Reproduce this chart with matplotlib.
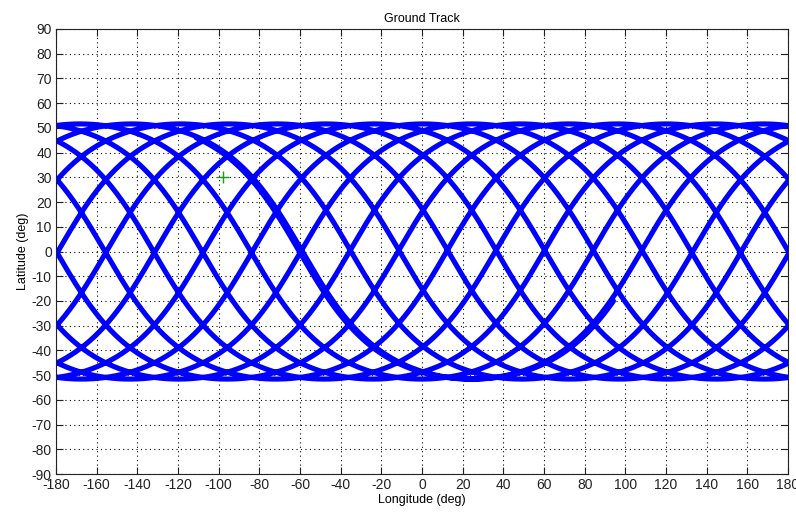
import numpy as np
import matplotlib
matplotlib.use("Agg")
import matplotlib.pyplot as plt

# orbit as seen from the ground: circular, inclined, ~15 revs per day
inclination = 51.6          # deg
node_shift = 23.9           # deg of westward drift per revolution
first_node_lon = 131.6      # ascending node of the first revolution (deg)
u_start = 113.4             # argument of latitude where the track begins (deg)
u_end = 15 * 360 + 334.1    # argument of latitude where the track ends (deg)

# ground station
station_lon = [-98]
station_lat = [30]

xticks = list(range(-180, 181, 20))
yticks = list(range(-90, 91, 10))

u = np.radians(np.linspace(u_start, u_end, 40000))
inc = np.radians(inclination)
lat = np.degrees(np.arcsin(np.sin(inc) * np.sin(u)))
dlon = np.unwrap(np.arctan2(np.cos(inc) * np.sin(u), np.cos(u)))
lon = first_node_lon + np.degrees(dlon) - np.degrees(u) / 360.0 * node_shift
lon = (lon + 180) % 360 - 180

# break the line where it wraps around the date line
jumps = np.where(np.abs(np.diff(lon)) > 180)[0] + 1
lon = np.insert(lon, jumps, np.nan)
lat = np.insert(lat, jumps, np.nan)

plt.rcParams['font.family'] = ['Liberation Sans', 'DejaVu Sans']
plt.rcParams['axes.unicode_minus'] = False

fig = plt.figure(figsize=(7.96, 5.14), dpi=100)
ax = fig.add_axes([0.0704, 0.0778, 0.9196, 0.8658])

ax.plot(lon, lat, color='#0000ff', linewidth=3.7, solid_capstyle='round')
ax.plot(station_lon, station_lat, '+', color='#1a9a1a', markersize=9, markeredgewidth=1.0)

ax.set_xlim(-180, 180)
ax.set_ylim(-90, 90)
ax.set_xticks(xticks)
ax.set_yticks(yticks)
ax.tick_params(direction='in', top=True, right=True, length=5, width=0.8,
               labelsize=10, colors='#222222', pad=3)
ax.grid(True, linestyle=(0, (1, 3)), color='black', linewidth=0.8)
for s in ax.spines.values():
    s.set_linewidth(0.8)
    s.set_color('#222222')

ax.set_title('Ground Track', fontsize=9, pad=5)
ax.set_xlabel('Longitude (deg)', fontsize=9, labelpad=1)
ax.set_ylabel('Latitude (deg)', fontsize=9, labelpad=2)

fig.savefig('out.png', dpi=100)
